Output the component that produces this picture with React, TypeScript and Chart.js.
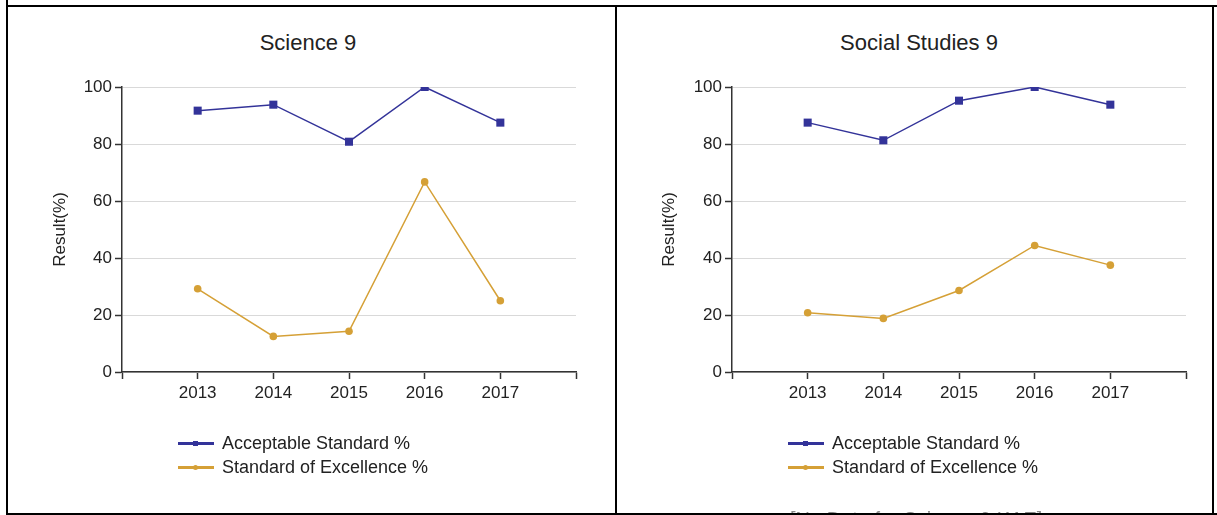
import React, { useEffect, useRef } from 'react';
import { Chart, registerables } from 'chart.js';

Chart.register(...registerables);

const years = [2013, 2014, 2015, 2016, 2017];
const yTickValues = [0, 20, 40, 60, 80, 100];
const scienceAcceptable = [91.7, 93.8, 80.8, 100, 87.5];
const scienceExcellence = [29.2, 12.5, 14.3, 66.7, 25.0];
const socialAcceptable = [87.5, 81.3, 95.2, 100, 93.8];
const socialExcellence = [20.8, 18.8, 28.6, 44.4, 37.5];
const seriesNames = ['Acceptable Standard %', 'Standard of Excellence %'];
const seriesColors = ['#333399', '#D5A036'];
const panelTitles = ['Science 9', 'Social Studies 9'];
const yAxisTitle = 'Result(%)';
const noDataText = '[No Data for Science 9 KAE]';

const FONT = "'Liberation Sans', Arial, sans-serif";
const TEXT = '#222';

type PanelProps = {
  title: string;
  acceptable: number[];
  excellence: number[];
  left: number;
  width: number;
  yAxisWidth: number;
  rightPad: number;
  titleCenter: number;
};

function ChartPanel({ title, acceptable, excellence, left, width, yAxisWidth, rightPad, titleCenter }: PanelProps) {
  const ref = useRef<HTMLCanvasElement | null>(null);
  const height = 506;
  useEffect(() => {
    if (!ref.current) return;
    const toPoints = (vals: number[]) => years.map((yr, i) => ({ x: yr, y: vals[i] }));
    const chart = new Chart(ref.current, {
      type: 'line',
      data: {
        datasets: [
          {
            label: seriesNames[0],
            data: toPoints(acceptable),
            borderColor: seriesColors[0],
            backgroundColor: seriesColors[0],
            borderWidth: 1.5,
            pointStyle: 'rect',
            pointRadius: 5.7,
            pointBorderWidth: 0,
            tension: 0,
          },
          {
            label: seriesNames[1],
            data: toPoints(excellence),
            borderColor: seriesColors[1],
            backgroundColor: seriesColors[1],
            borderWidth: 1.5,
            pointStyle: 'circle',
            pointRadius: 3.8,
            pointBorderWidth: 0,
            tension: 0,
          },
        ],
      },
      options: {
        animation: false,
        responsive: false,
        maintainAspectRatio: false,
        devicePixelRatio: 1,
        layout: { padding: { left: 0, right: rightPad, top: 80, bottom: 101 } },
        plugins: {
          legend: { display: false },
          tooltip: { enabled: false },
          title: { display: false },
        },
        scales: {
          x: {
            type: 'linear',
            min: years[0] - 1,
            max: years[years.length - 1] + 1,
            afterFit: (s: any) => {
              s.height = 40;
            },
            ticks: {
              stepSize: 1,
              autoSkip: false,
              maxRotation: 0,
              color: TEXT,
              font: { family: FONT, size: 17 },
              padding: 4,
              callback: (v: any) => (years.includes(Number(v)) ? String(v) : ''),
            },
            grid: {
              drawOnChartArea: false,
              drawTicks: true,
              tickLength: 7,
              tickColor: '#333',
              tickWidth: 1.5,
            },
            border: { color: '#333', width: 1.5 },
          },
          y: {
            min: yTickValues[0],
            max: yTickValues[yTickValues.length - 1],
            afterFit: (s: any) => {
              s.width = yAxisWidth;
            },
            afterBuildTicks: (s: any) => {
              s.ticks = yTickValues.map((v) => ({ value: v }));
            },
            ticks: {
              color: TEXT,
              font: { family: FONT, size: 17 },
              padding: 3,
            },
            grid: {
              color: '#d9d9d9',
              lineWidth: 1,
              tickColor: '#333',
              tickLength: 7,
              tickWidth: 1.5,
            },
            border: { color: '#333', width: 1.5 },
            title: {
              display: true,
              text: yAxisTitle,
              color: TEXT,
              font: { family: FONT, size: 17 },
              padding: { top: 42, bottom: 0 },
            },
          },
        },
      } as any,
    });
    return () => chart.destroy();
  }, [title, acceptable, excellence, yAxisWidth, rightPad]);
  return (
    <>
      <div
        style={{
          position: 'absolute',
          left: titleCenter - 150,
          width: 300,
          top: 30,
          textAlign: 'center',
          fontFamily: FONT,
          fontSize: 22,
          lineHeight: '26px',
          color: TEXT,
          whiteSpace: 'nowrap',
        }}
      >
        {title}
      </div>
      <canvas
        ref={ref}
        width={width}
        height={height}
        style={{ position: 'absolute', left, top: 7, width, height }}
      />
    </>
  );
}

function Legend({ left }: { left: number }) {
  return (
    <div style={{ position: 'absolute', left, top: 431, fontFamily: FONT, fontSize: 18, color: TEXT }}>
      {seriesNames.map((name, i) => (
        <div key={name} style={{ display: 'flex', alignItems: 'center', height: 24, whiteSpace: 'nowrap' }}>
          <div style={{ position: 'relative', width: 36, height: 3, background: seriesColors[i], marginRight: 8 }}>
            <div
              style={{
                position: 'absolute',
                left: 15,
                top: -1,
                width: 5,
                height: 5,
                borderRadius: i === 1 ? 3 : 0,
                background: seriesColors[i],
              }}
            />
          </div>
          <span>{name}</span>
        </div>
      ))}
    </div>
  );
}

export default function App() {
  const line = (style: React.CSSProperties) => (
    <div style={{ position: 'absolute', background: '#000', ...style }} />
  );
  return (
    <div
      style={{
        position: 'absolute',
        left: 0,
        top: 0,
        width: 1217,
        height: 515,
        overflow: 'hidden',
        background: '#fff',
      }}
    >
      <ChartPanel
        title={panelTitles[0]}
        acceptable={scienceAcceptable}
        excellence={scienceExcellence}
        left={8}
        width={607}
        yAxisWidth={114}
        rightPad={39}
        titleCenter={308}
      />
      <ChartPanel
        title={panelTitles[1]}
        acceptable={socialAcceptable}
        excellence={socialExcellence}
        left={617}
        width={596}
        yAxisWidth={115}
        rightPad={27}
        titleCenter={919}
      />
      <Legend left={178} />
      <Legend left={788} />
      <div
        style={{
          position: 'absolute',
          left: 790,
          top: 509,
          fontFamily: FONT,
          fontSize: 20,
          lineHeight: '20px',
          color: '#888',
          whiteSpace: 'nowrap',
        }}
      >
        {noDataText}
      </div>
      {line({ left: 6, top: 0, width: 2, height: 515 })}
      {line({ left: 6, top: 5, width: 1211, height: 2 })}
      {line({ left: 615, top: 5, width: 2, height: 510 })}
      {line({ left: 1212, top: 5, width: 2, height: 510 })}
      {line({ left: 6, top: 513, width: 1211, height: 2 })}
    </div>
  );
}
